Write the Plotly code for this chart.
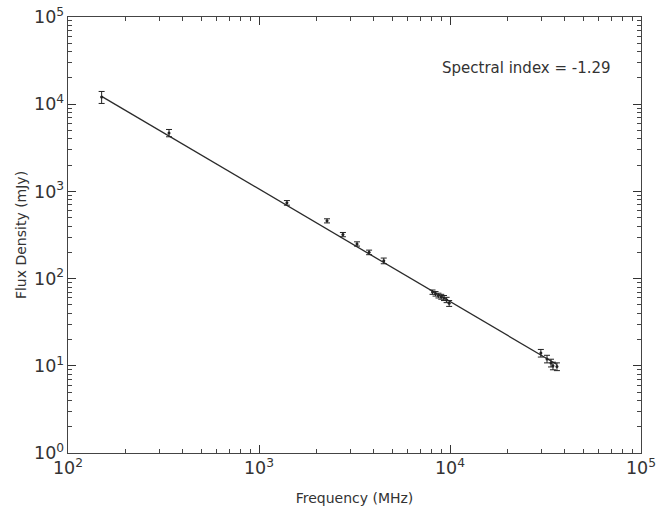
import plotly.graph_objects as go

# Measured data (frequency in MHz, flux density in mJy)
freq = [150, 338, 1400, 2270, 2750, 3260, 3770, 4500,
        8100, 8400, 8700, 9000, 9300, 9600, 9900,
        29900, 32200, 33800, 34600, 36300]
flux = [12100, 4680, 740, 460, 320, 250, 200, 160,
        70, 67, 64, 62, 60, 57, 52,
        14.0, 12.0, 10.8, 10.0, 9.8]
flux_err = [1900, 450, 45, 25, 18, 14, 12, 12,
            4, 4, 4, 4, 4, 4, 4,
            1.4, 1.2, 1.1, 1.0, 1.0]

# Power-law fit shown in the chart
spectral_index = -1.29
fit_ref_freq = 150
fit_ref_flux = 12300
fit_freq = [150, 36300]
fit_flux = [fit_ref_flux * (f / fit_ref_freq) ** spectral_index for f in fit_freq]

# Tick label aliases for the plain-number decades
tick_alias = {"1": "10<sup>0</sup>", "10": "10<sup>1</sup>"}

txt = "#333333"
fig = go.Figure()
fig.add_trace(go.Scatter(
    x=fit_freq, y=fit_flux, mode="lines",
    line=dict(color="#2b2b2b", width=1.3), showlegend=False, hoverinfo="skip"))
fig.add_trace(go.Scatter(
    x=freq, y=flux, mode="markers",
    marker=dict(color="#222222", size=3),
    error_y=dict(type="data", array=flux_err, visible=True,
                 color="#222222", thickness=1, width=3),
    showlegend=False))

axis_common = dict(
    type="log", showgrid=False, zeroline=False, showline=True,
    linecolor="#444444", linewidth=1.2, mirror="allticks",
    ticks="inside", ticklen=8, tickwidth=1.2, tickcolor="#333333",
    tickmode="linear", tick0=0, dtick=1,
    exponentformat="power", showexponent="all", labelalias=tick_alias,
    automargin=False, ticklabeloverflow="allow",
    tickfont=dict(family="DejaVu Sans", size=14, color=txt),
    minor=dict(dtick="D1", ticks="inside", ticklen=4, tickwidth=1.1,
               tickcolor="#444444", showgrid=False),
)

fig.update_layout(
    xaxis=dict(range=[2, 5],
               title=dict(text="Frequency (MHz)",
                          font=dict(family="DejaVu Sans", size=14, color=txt), standoff=15),
               **axis_common),
    yaxis=dict(range=[0, 5],
               title=dict(text="Flux Density (mJy)",
                          font=dict(family="DejaVu Sans", size=14, color=txt), standoff=4),
               **axis_common),
)

fig.add_annotation(x=0.80, y=0.883, xref="paper", yref="paper",
                   xanchor="center", yanchor="middle",
                   text="Spectral index = -1.29", showarrow=False,
                   font=dict(family="DejaVu Sans", size=15, color=txt))

fig.update_layout(
    width=668, height=510,
    margin=dict(l=68, r=27, t=17, b=57),
    plot_bgcolor="white", paper_bgcolor="white",
)

fig.write_html("out.html", config={"displayModeBar": False},
               post_script="document.body.style.margin='0';")
